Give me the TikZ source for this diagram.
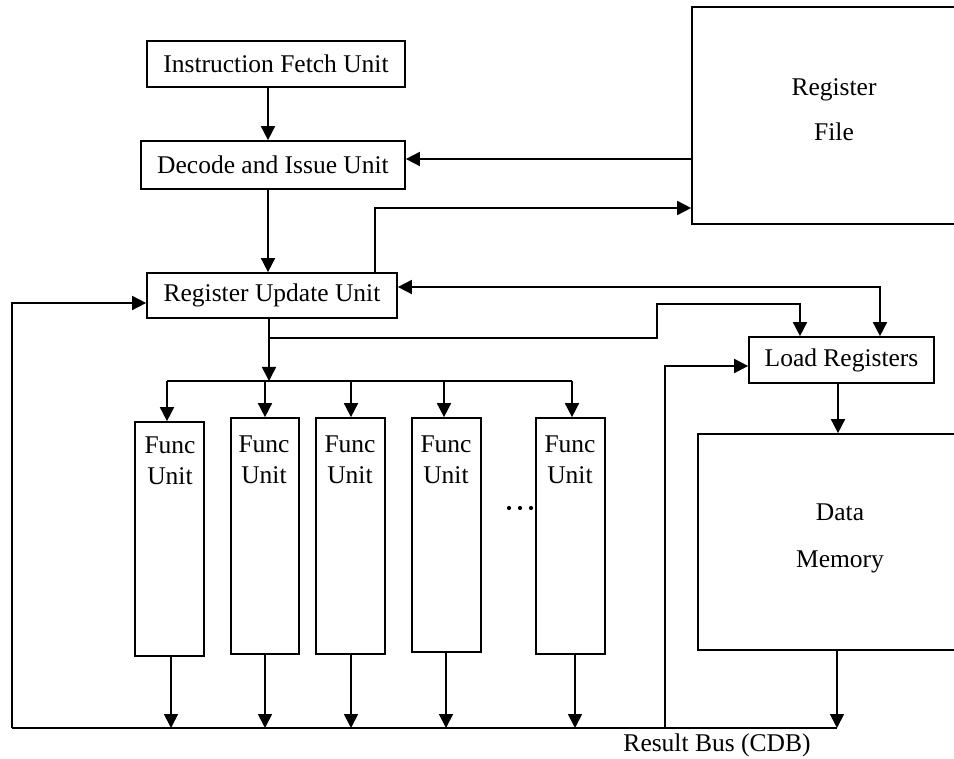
\documentclass[tikz,border=0pt]{standalone}
\usepackage{fontspec}
\setmainfont{Liberation Serif}
\usetikzlibrary{arrows.meta}
\begin{document}
\begin{tikzpicture}[x=1pt,y=-1pt,
  lw/.style={line width=1.7pt},
  wire/.style={lw},
  blk/.style={draw, lw, inner sep=0pt, font=\fontsize{25.5}{30}\selectfont},
  lbl/.style={inner sep=0pt, align=center},
  arr/.style={lw, -{Triangle[length=14pt,width=14pt]}},
  darr/.style={lw, {Triangle[length=14pt,width=14pt]}-{Triangle[length=14pt,width=14pt]}}]
\useasboundingbox (0,0) rectangle (954,759);
\clip (0,0) rectangle (954,759);

% blocks
\node[blk, minimum width=258pt, minimum height=46pt] (ifu) at (276,64) {Instruction Fetch Unit};
\node[blk, minimum width=264pt, minimum height=48pt] (diu) at (273,165) {Decode and Issue Unit};
\node[blk, minimum width=250pt, minimum height=45pt] (ruu) at (272,295.5) {Register Update Unit};
\node[blk, minimum width=278pt, minimum height=217pt] (rf) at (831,115.5) {};
\node[lbl, font=\fontsize{25.5}{45}\selectfont] (rft) at (834,109.5) {Register\\File};
\node[blk, minimum width=185pt, minimum height=46pt] (lr) at (841.5,360) {Load Registers};
\node[blk, minimum width=272pt, minimum height=216pt] (dm) at (834,542) {};
\node[lbl, font=\fontsize{25.5}{47}\selectfont] (dmt) at (840,538) {Data\\Memory};

\node[blk, minimum width=69pt, minimum height=234pt] (fu1) at (169.5,539) {};
\node[blk, minimum width=68pt, minimum height=236pt] (fu2) at (265,536) {};
\node[blk, minimum width=69pt, minimum height=236pt] (fu3) at (350.5,536) {};
\node[blk, minimum width=69pt, minimum height=234pt] (fu4) at (446.5,535) {};
\node[blk, minimum width=69pt, minimum height=236pt] (fu5) at (570.5,536) {};
\foreach \n/\x/\y in {fu1/170/461, fu2/264/459.5, fu3/350/459.5, fu4/446/459.5, fu5/570/459.5}
  \node[lbl, font=\fontsize{25.5}{31}\selectfont] (\n t) at (\x,\y) {Func\\Unit};

\node[lbl, font=\fontsize{25.5}{30}\selectfont] (bus) at (717,745) {Result Bus (CDB)};

% dots
\fill (509,508) circle (2.1);
\fill (520,508) circle (2.1);
\fill (531,508) circle (2.1);

% coordinates
\coordinate (busL) at (12,728);
\coordinate (busR) at (837,728);
\coordinate (fan) at (269,381);
\coordinate (fanL) at (167,381);
\coordinate (fanR) at (572,381);
\coordinate (split) at (269,338);

% connectors
\draw[arr] (ifu.south -| 268,0) -- (diu.north -| 268,0);
\draw[arr] (diu.south -| 268,0) -- (ruu.north -| 268,0);
\draw[arr] (rf.west |- 0,159) -- (diu.east |- 0,159);
\draw[arr] (ruu.north -| 375,0) |- (rf.west |- 0,208);
\draw[darr] (ruu.east |- 0,287) -| (lr.north -| 880,0);
\draw[arr] (ruu.south -| fan) -- (fan);
\draw[arr] (split) -| (657,304) -| (lr.north -| 800,0);
\draw[wire] (fanL) -- (fanR);
\draw[arr] (fanL) -- (fu1.north -| fanL);
\draw[arr] (fu2.north |- fan) -- (fu2.north);
\draw[arr] (fan -| 351,0) -- (fu3.north -| 351,0);
\draw[arr] (fan -| 444,0) -- (fu4.north -| 444,0);
\draw[arr] (fanR) -- (fu5.north -| fanR);

\draw[wire] (busR) -- (busL);
\draw[arr] (busL) |- (ruu.west |- 0,303);
\draw[arr] (fu1.south -| 171,0) -- (busL -| 171,0);
\draw[arr] (fu2.south) -- (busL -| fu2.south);
\draw[arr] (fu3.south -| 351,0) -- (busL -| 351,0);
\draw[arr] (fu4.south -| 446,0) -- (busL -| 446,0);
\draw[arr] (fu5.south -| 575,0) -- (busL -| 575,0);
\draw[arr] (busL -| 665,0) |- (lr.west |- 0,366);
\draw[arr] (lr.south -| 838,0) -- (dm.north -| 838,0);
\draw[arr] (dm.south -| busR) -- (busR);
\end{tikzpicture}
\end{document}
